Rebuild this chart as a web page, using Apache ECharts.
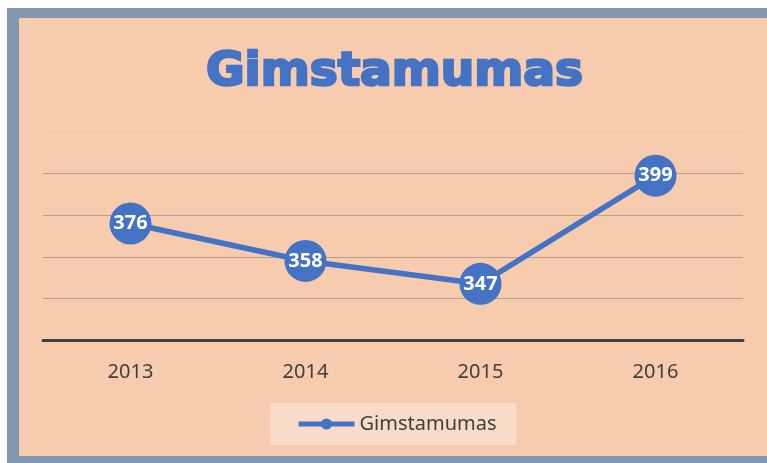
<!DOCTYPE html>
<html><head><meta charset="utf-8">
<script src="https://cdn.jsdelivr.net/npm/echarts@6/dist/echarts.min.js"></script>
<style>html,body{margin:0;padding:0;background:#fff}#c{width:767px;height:463px}</style>
</head><body><div id="c"></div>
<script>
const categories = ['2013', '2014', '2015', '2016'];
const values = [376, 358, 347, 399];
const seriesName = 'Gimstamumas';
const titleText = 'Gimstamumas';

const chart = echarts.init(document.getElementById('c'), null, {renderer: 'canvas'});
chart.setOption({
  backgroundColor: '#ffffff',
  graphic: [
    {type: 'rect', z: -10, shape: {x: 7, y: 8, width: 800, height: 455}, style: {fill: '#8497b0'}},
    {type: 'rect', z: -9, shape: {x: 19, y: 18, width: 790, height: 438}, style: {fill: '#f7cbad'}}
  ],
  title: {
    text: titleText, left: 201, top: 44,
    textStyle: {fontFamily: 'DejaVu Sans', fontWeight: 'bold', fontSize: 47, color: '#4472c4',
      textBorderColor: '#4472c4', textBorderWidth: 2.5}
  },
  legend: {
    bottom: 18, left: 270,
    backgroundColor: '#f8dcc8',
    padding: [11, 20, 11, 26],
    itemWidth: 56, itemHeight: 14, itemGap: 0,
    lineStyle: {width: 5},
    textStyle: {fontFamily: 'Noto Sans', fontSize: 20, color: '#404040'},
    data: [seriesName]
  },
  grid: {left: 43, right: 24, top: 132, bottom: 123, containLabel: false},
  xAxis: {
    type: 'category', data: categories, boundaryGap: true,
    axisLine: {lineStyle: {color: '#404040', width: 3}},
    axisTick: {show: false},
    axisLabel: {fontFamily: 'Noto Sans', fontSize: 20, color: '#404040', margin: 22}
  },
  yAxis: {
    type: 'value', min: 320, max: 420, interval: 20,
    axisLabel: {show: false}, axisLine: {show: false}, axisTick: {show: false},
    splitLine: {lineStyle: {color: ['#c0a08e', '#b7a090', '#b7a090', '#b7a090', '#b7a090', '#e2c4b0'], width: 1}}
  },
  series: [{
    name: seriesName, type: 'line', data: values,
    symbol: 'circle', symbolSize: 42,
    lineStyle: {color: '#4472c4', width: 5.5},
    itemStyle: {color: '#4472c4'},
    label: {show: true, position: 'inside', color: '#ffffff', fontFamily: 'Noto Sans', fontWeight: 'bold', fontSize: 20},
    emphasis: {disabled: true},
    animation: false
  }],
  animation: false
});
</script></body></html>
